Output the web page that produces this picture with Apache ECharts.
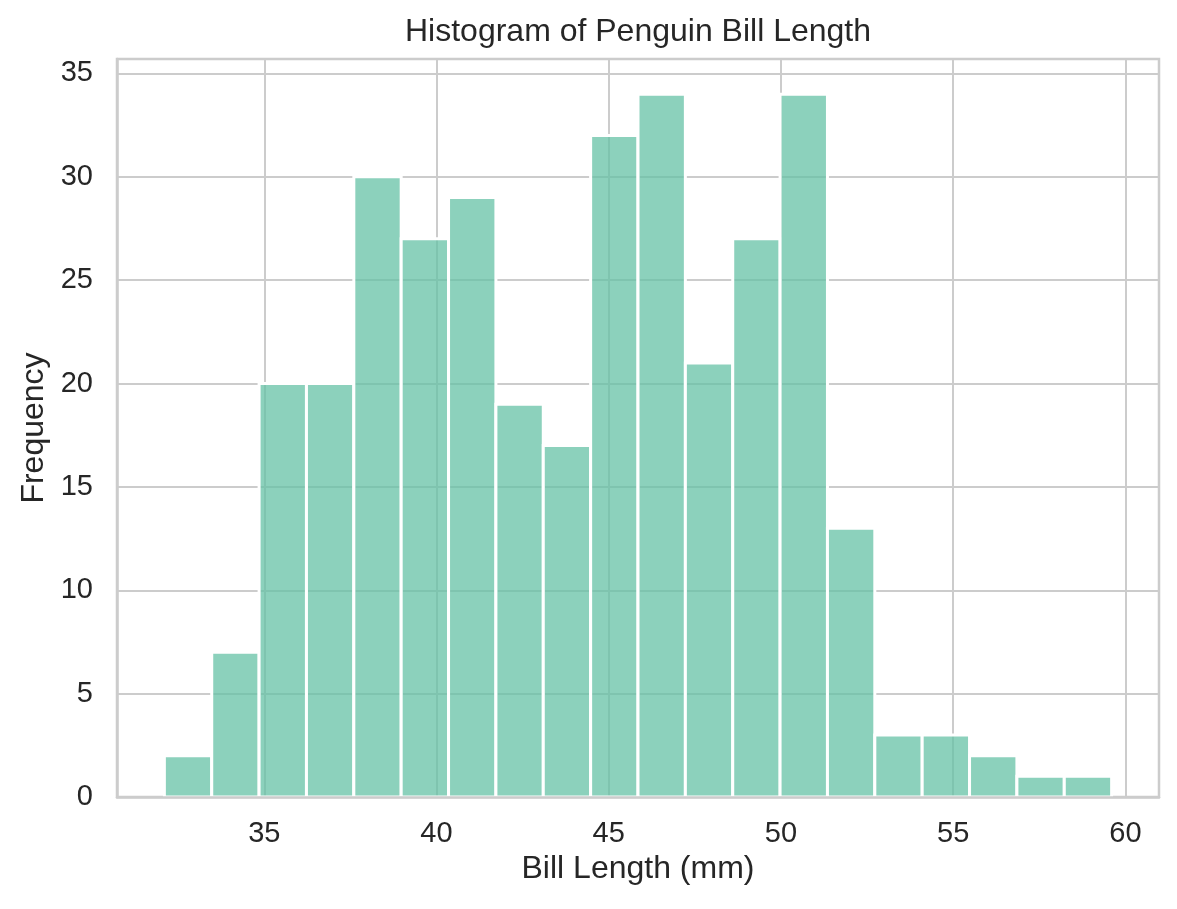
<!DOCTYPE html>
<html>
<head>
<meta charset="utf-8">
<script src="https://cdn.jsdelivr.net/npm/echarts@6/dist/echarts.min.js"></script>
<style>
html,body{margin:0;padding:0;background:#fff;}
#chart{width:1177px;height:909px;}
</style>
</head>
<body>
<div id="chart"></div>
<script>
// Histogram bins (Bill Length, mm): edges and counts
const binEdges = [32.1, 33.475, 34.85, 36.225, 37.6, 38.975, 40.35, 41.725, 43.1, 44.475, 45.85,
                  47.225, 48.6, 49.975, 51.35, 52.725, 54.1, 55.475, 56.85, 58.225, 59.6];
const counts = [2, 7, 20, 20, 30, 27, 29, 19, 17, 32, 34, 21, 27, 34, 13, 3, 3, 2, 1, 1];
const xTicks = [35, 40, 45, 50, 55, 60];
const yTicks = [0, 5, 10, 15, 20, 25, 30, 35];

const titleText = 'Histogram of Penguin Bill Length';
const xLabel = 'Bill Length (mm)';
const yLabel = 'Frequency';

const FONT = '"Liberation Sans", Arial, Helvetica, sans-serif';
const TXT = '#262626';
const GRID = '#cccccc';

const data = counts.map((c, i) => [binEdges[i], binEdges[i + 1], c]);

const chart = echarts.init(document.getElementById('chart'), null, {renderer: 'canvas'});
chart.setOption({
  animation: false,
  backgroundColor: '#ffffff',
  textStyle: {fontFamily: FONT},
  grid: {left: 117, right: 18, top: 59, bottom: 112, show: true, borderColor: GRID, borderWidth: 2.5, backgroundColor: 'transparent'},
  graphic: [{
    type: 'text', x: 638, y: 32, z: 10,
    style: {text: titleText, font: '32px ' + FONT, fill: TXT, textAlign: 'center', textVerticalAlign: 'middle'}
  }],
  xAxis: [{
    type: 'value', min: 30.725, max: 60.975, splitNumber: 6,
    name: xLabel, nameLocation: 'middle', nameGap: 55,
    nameTextStyle: {fontSize: 32, color: TXT, fontFamily: FONT},
    axisLine: {show: false},
    axisTick: {show: false},
    axisLabel: {fontSize: 29, color: TXT, margin: 22, showMinLabel: false, showMaxLabel: false,
      formatter: v => (xTicks.indexOf(v) >= 0 ? String(v) : '')},
    splitLine: {show: true, lineStyle: {color: GRID, width: 2}}
  }, {
    type: 'value', min: 30.725, max: 60.975, position: 'bottom', z: 10,
    axisLine: {show: true, onZero: false, lineStyle: {color: GRID, width: 2.5}},
    axisTick: {show: false}, axisLabel: {show: false}, splitLine: {show: false}
  }],
  yAxis: {
    type: 'value', min: 0, max: 35.7, interval: 5,
    name: yLabel, nameLocation: 'middle', nameGap: 65, nameRotate: 90,
    nameTextStyle: {fontSize: 32, color: TXT, fontFamily: FONT},
    axisLine: {show: true, lineStyle: {color: GRID, width: 2.5}},
    axisTick: {show: false},
    axisLabel: {fontSize: 29, color: TXT, margin: 24, showMaxLabel: false,
      formatter: v => (yTicks.indexOf(v) >= 0 ? String(v) : '')},
    splitLine: {show: true, lineStyle: {color: GRID, width: 2}}
  },
  series: [{
    type: 'custom',
    clip: true,
    xAxisIndex: 0,
    encode: {x: [0, 1], y: 2},
    data: data,
    renderItem: function (params, api) {
      const p0 = api.coord([api.value(0), api.value(2)]);
      const p1 = api.coord([api.value(1), 0]);
      return {
        type: 'rect',
        shape: {x: p0[0], y: p0[1], width: p1[0] - p0[0], height: p1[1] - p0[1]},
        style: {fill: 'rgba(102,194,165,0.75)', stroke: '#ffffff', lineWidth: 3}
      };
    }
  }]
});
</script>
</body>
</html>
